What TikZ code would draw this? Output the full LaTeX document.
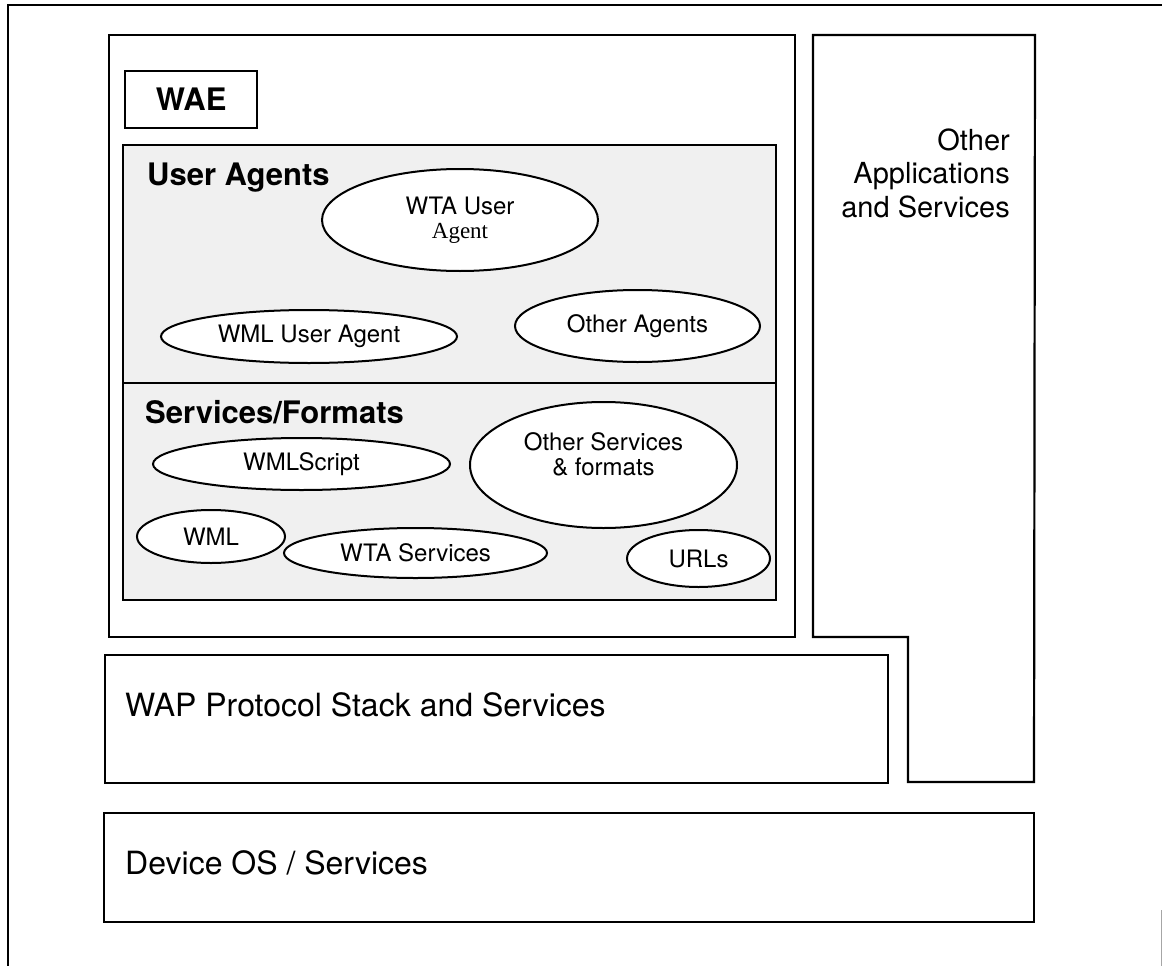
\documentclass[tikz,border=0pt]{standalone}
\usepackage{fontspec}
\setmainfont{TeX Gyre Heros}
\newfontfamily\serifagent{Liberation Serif}
\usetikzlibrary{shapes.geometric}
\begin{document}
\begin{tikzpicture}[x=1pt,y=-1pt,
  frame/.style={line width=2pt},
  box/.style={draw, line width=2.2pt, rectangle, inner sep=0pt, anchor=north west},
  shaded/.style={box, fill=black!6},
  ell/.style={draw, line width=2pt, ellipse, fill=white, inner sep=0pt, align=center,
    font=\fontsize{24}{24}\selectfont},
  head/.style={inner sep=0pt, anchor=base west, font=\fontsize{31}{33}\selectfont\bfseries},
  big/.style={inner sep=0pt, anchor=base west, font=\fontsize{32}{34}\selectfont}]
\useasboundingbox (0,0) rectangle (1162,966);
% outer (cropped) frame
\draw[frame] (8,966) -- (8,5) -- (1162,5);
\draw[black!35, line width=0.8pt] (1161,910) -- (1161,966);

% WAE block
\node[box, minimum width=686, minimum height=602] (wae) at (108,34) {};
\node[box, minimum width=132, minimum height=57, font=\fontsize{31}{33}\selectfont\bfseries] (waelabel) at (124,70) {WAE};

% shaded areas
\node[shaded, minimum width=653, minimum height=238] (ua) at (122,144) {};
\node[shaded, minimum width=653, minimum height=217] (sf) at (122,382) {};
\node[head] (uatext) at (147,185) {User Agents};
\node[head] (sftext) at (145,423) {Services/Formats};

% user agents
\node[ell, minimum width=276, minimum height=102] (wta) at (460,220)
  {WTA User\\{\serifagent\fontsize{23}{24}\selectfont Agent}};
\node[ell, minimum width=296, minimum height=53] (wmlua) at (309,336.5) {WML User Agent};
\node[ell, minimum width=245, minimum height=72] (oa) at (637.5,326) {Other Agents};

% services / formats
\node[ell, minimum width=297, minimum height=52] (wmls) at (301.5,464) {WMLScript};
\node[ell, minimum width=267, minimum height=126,
  label={[name=ostext, yshift=11pt, align=center, font=\fontsize{24}{25}\selectfont]center:Other Services\\\& formats}] (os) at (603.5,465) {};
\node[ell, minimum width=148, minimum height=53] (wml) at (211,536.5) {WML};
\node[ell, minimum width=263, minimum height=50] (wtas) at (415.5,553) {WTA Services};
\node[ell, minimum width=143, minimum height=57] (urls) at (698.5,558.5) {URLs};

% other applications (L-shaped)
\draw[line width=2.2pt, line join=miter] (813,35) -- (1035,35) -- (1034,782) -- (908,782) -- (908,637) -- (813,637) -- cycle;
\node[inner sep=0pt, anchor=north east, align=right, font=\fontsize{29}{33.5}\selectfont] (oas) at (1010,128.5)
  {Other\\Applications\\and Services};

% WAP protocol stack
\node[box, minimum width=783, minimum height=128] (wap) at (104,654) {};
\node[big] (waptext) at (125,716) {WAP Protocol Stack and Services};

% Device OS
\node[box, minimum width=930, minimum height=109] (dev) at (103,812) {};
\node[big] (devtext) at (125,874) {Device OS / Services};
\end{tikzpicture}
\end{document}
